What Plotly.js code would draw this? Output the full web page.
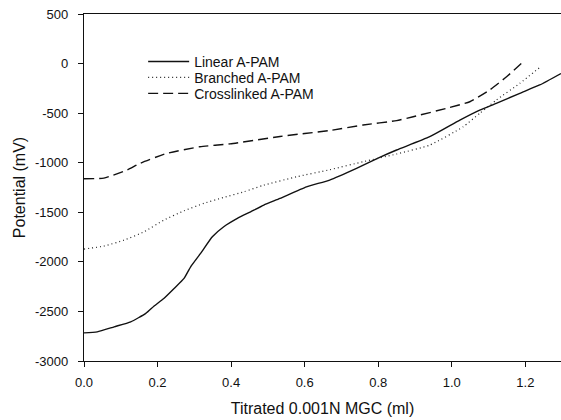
<!DOCTYPE html>
<html><head><meta charset="utf-8">
<script src="https://cdn.plot.ly/plotly-3.0.1.min.js"></script>
<style>html,body{margin:0;padding:0;background:#fff}#chart{width:561px;height:420px}</style>
</head><body><div id="chart"></div>
<script>
const seriesNames = ["Linear A-PAM", "Branched A-PAM", "Crosslinked A-PAM"];
const linearX = [0, 0.036, 0.082, 0.127, 0.168, 0.19, 0.217, 0.245, 0.272, 0.29, 0.317, 0.349, 0.38, 0.417, 0.453, 0.489, 0.533, 0.605, 0.668, 0.741, 0.804, 0.85, 0.94, 1.022, 1.076, 1.121, 1.185, 1.239, 1.297];
const linearY = [-2716, -2706, -2655, -2605, -2520, -2447, -2369, -2268, -2167, -2050, -1915, -1747, -1646, -1562, -1495, -1427, -1360, -1243, -1175, -1057, -946, -872, -738, -570, -469, -401, -300, -216, -100];
const branchedX = [0, 0.054, 0.109, 0.163, 0.217, 0.272, 0.326, 0.38, 0.435, 0.489, 0.578, 0.668, 0.759, 0.85, 0.94, 1.031, 1.076, 1.121, 1.185, 1.244];
const branchedY = [-1871, -1841, -1781, -1697, -1579, -1485, -1410, -1350, -1293, -1226, -1142, -1071, -990, -912, -822, -637, -502, -368, -199, -25];
const crossX = [0, 0.054, 0.117, 0.152, 0.225, 0.315, 0.397, 0.533, 0.668, 0.759, 0.85, 0.895, 0.985, 1.049, 1.103, 1.149, 1.189];
const crossY = [-1162, -1155, -1074, -1007, -906, -839, -810, -735, -675, -620, -575, -536, -452, -385, -267, -133, 0];
const yTickVals = [500, 0, -500, -1000, -1500, -2000, -2500, -3000];
const yTickText = ["500", "0", "-500", "-1000", "-1500", "-2000", "-2500", "-3000"];
const xTickVals = [0, 0.2, 0.4, 0.6, 0.8, 1.0, 1.2];
const xTickText = ["0.0", "0.2", "0.4", "0.6", "0.8", "1.0", "1.2"];

const font = "Liberation Sans, Arial, sans-serif";
const traces = [
  {x: linearX, y: linearY, name: seriesNames[0], legend: "legend", mode: "lines", line: {color: "#111", width: 1.4, dash: "solid", shape: "spline", smoothing: 0.5}},
  {x: branchedX, y: branchedY, name: seriesNames[1], legend: "legend2", mode: "lines", line: {color: "#222", width: 1.2, dash: "1px,3px", shape: "spline", smoothing: 0.5}},
  {x: crossX, y: crossY, name: seriesNames[2], legend: "legend3", mode: "lines", line: {color: "#111", width: 1.4, dash: "10px,5px", shape: "spline", smoothing: 0.5}}
];
function leg(y) {
  return {x: 0.124, y: y, xanchor: "left", yanchor: "middle", bgcolor: "rgba(0,0,0,0)", itemwidth: 41,
          font: {family: font, size: 14, color: "#111"}};
}
const layout = {
  width: 561, height: 420,
  margin: {l: 84, r: 0, t: 14, b: 59},
  paper_bgcolor: "#fff", plot_bgcolor: "#fff",
  font: {family: font, size: 13, color: "#111"},
  showlegend: true,
  legend: leg(0.862), legend2: leg(0.816), legend3: leg(0.77),
  xaxis: {
    range: [0, 1.297], tickvals: xTickVals, ticktext: xTickText,
    showline: true, linecolor: "#111", linewidth: 1.2, mirror: true,
    ticks: "outside", ticklen: 5, tickcolor: "#111", showgrid: false, zeroline: false,
    ticklabelstandoff: 4,
    tickfont: {family: font, size: 13, color: "#111"},
    title: {text: "Titrated 0.001N MGC (ml)", font: {family: font, size: 16, color: "#111"}, standoff: 14}
  },
  yaxis: {
    range: [-3000, 500], tickvals: yTickVals, ticktext: yTickText,
    showline: true, linecolor: "#111", linewidth: 1.2, mirror: true,
    ticks: "outside", ticklen: 5, tickcolor: "#111", showgrid: false, zeroline: false,
    ticklabelstandoff: 7,
    tickfont: {family: font, size: 13, color: "#111"},
    title: {text: "Potential (mV)", font: {family: font, size: 16, color: "#111"}, standoff: 5}
  }
};
Plotly.newPlot("chart", traces, layout, {displayModeBar: false, staticPlot: true});
</script></body></html>
